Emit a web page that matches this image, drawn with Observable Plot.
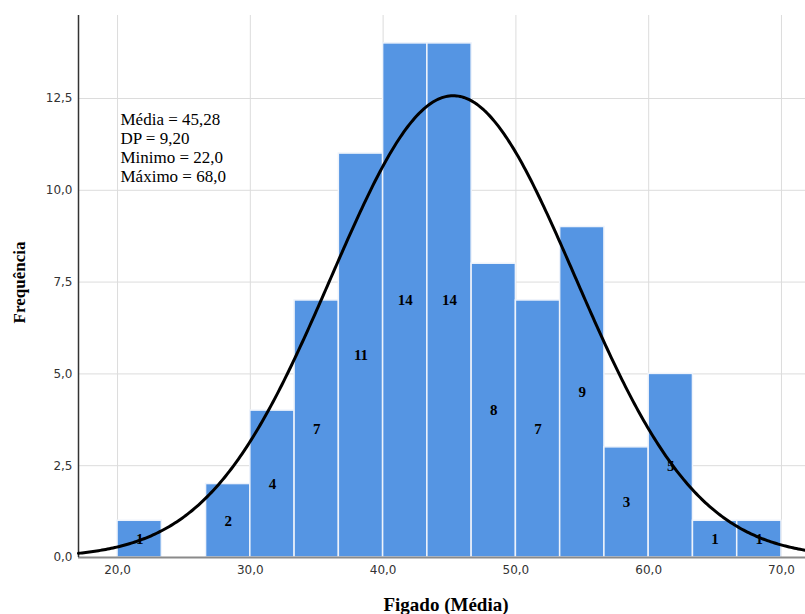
<!DOCTYPE html>
<html><head><meta charset="utf-8">
<script src="https://cdn.jsdelivr.net/npm/d3@7"></script>
<script src="https://cdn.jsdelivr.net/npm/@observablehq/plot@0.6"></script>
<style>body{margin:0;background:#fff;} svg{display:block;}</style>
</head><body><div id="chart"></div>
<script>
const binStart = 20;
const binWidth = 10/3;
const counts = [1, 0, 2, 4, 7, 11, 14, 14, 8, 7, 9, 3, 5, 1, 1];
const mean = 45.28, sd = 9.20, minV = 22.0, maxV = 68.0;
const xTicks = [20, 30, 40, 50, 60, 70];
const yTicks = [0, 2.5, 5, 7.5, 10, 12.5];
const statsText = ["Média = 45,28", "DP = 9,20", "Minimo = 22,0", "Máximo = 68,0"];

const bins = counts.map((c, i) => ({x1: binStart + i*binWidth, x2: binStart + (i+1)*binWidth, count: c}));
const N = d3.sum(counts);
const fmt = d => d.toFixed(1).replace(".", ",");
const xDom = [17.06, 71.81];
const curve = d3.range(0, 401).map(i => {
  const x = xDom[0] + (xDom[1]-xDom[0])*i/400;
  return {x, y: N*binWidth*Math.exp(-0.5*((x-mean)/sd)**2)/(sd*Math.sqrt(2*Math.PI))};
});

const chart = Plot.plot({
  width: 805, height: 614,
  marginLeft: 78, marginRight: 0, marginTop: 15, marginBottom: 57,
  style: {fontFamily: "'DejaVu Sans', sans-serif", fontSize: "12px", color: "#333", background: "#fff"},
  x: {domain: xDom, ticks: xTicks, tickFormat: fmt, label: null},
  y: {domain: [0, 14.76], ticks: yTicks, tickFormat: fmt, label: null},
  marks: [
    Plot.gridX(xTicks, {stroke: "#dcdcdc", strokeOpacity: 1}),
    Plot.gridY(yTicks, {stroke: "#dcdcdc", strokeOpacity: 1}),
    Plot.rectY(bins.filter(d => d.count > 0), {x1: "x1", x2: "x2", y: "count", fill: "#5595e3", stroke: "#eef3fb", strokeWidth: 1.5}),
    Plot.axisX(xTicks, {tickSize: 0, tickPadding: 8, tickFormat: fmt, label: null, fontSize: 12}),
    Plot.axisY(yTicks, {tickSize: 0, tickPadding: 6, tickFormat: fmt, label: null, fontSize: 12}),
    Plot.ruleY([0], {stroke: "#8a8a8a", strokeWidth: 2}),
    Plot.ruleX([xDom[0]], {stroke: "#333", strokeWidth: 1.5}),
    Plot.line(curve, {x: "x", y: "y", stroke: "#000", strokeWidth: 3}),
    Plot.text(bins.filter(d => d.count > 0), {x: d => (d.x1+d.x2)/2, y: d => d.count/2, text: d => String(d.count), fontFamily: "'Liberation Serif', serif", fontWeight: "bold", fontSize: 15, fill: "#000"}),
    Plot.text([statsText.join("\n")], {frameAnchor: "top-left", dx: 42, dy: 96, textAnchor: "start", lineAnchor: "top", lineHeight: 1.12, fontFamily: "'Liberation Serif', serif", fontSize: 17, fill: "#000"}),
    Plot.text(["Figado (Média)"], {frameAnchor: "bottom", dx: 4, dy: 53, fontFamily: "'Liberation Serif', serif", fontWeight: "bold", fontSize: 19, fill: "#000"}),
    Plot.text(["Frequência"], {frameAnchor: "left", dx: -59, rotate: -90, textAnchor: "middle", dy: -4, fontFamily: "'Liberation Serif', serif", fontWeight: "bold", fontSize: 17, fill: "#000"})
  ]
});
document.getElementById("chart").appendChild(chart);
</script></body></html>
